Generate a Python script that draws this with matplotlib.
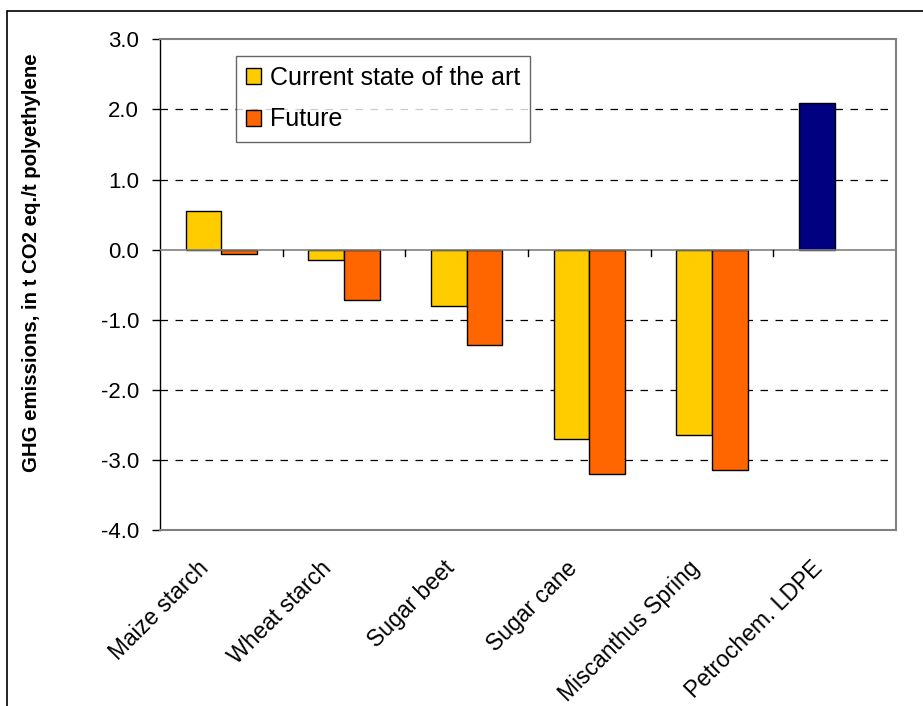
import matplotlib
matplotlib.use("Agg")
import matplotlib.pyplot as plt
import numpy as np
from matplotlib.patches import Rectangle
import matplotlib.transforms as mtransforms

plt.rcParams['font.family'] = ['Liberation Sans', 'DejaVu Sans']

categories = ["Maize starch", "Wheat starch", "Sugar beet", "Sugar cane",
              "Miscanthus Spring", "Petrochem. LDPE"]
current = [0.55, -0.15, -0.80, -2.70, -2.65]
future = [-0.06, -0.72, -1.36, -3.20, -3.15]
petrochem = [2.09]
yticks = [3.0, 2.0, 1.0, 0.0, -1.0, -2.0, -3.0, -4.0]

W, H = 923, 706
fig = plt.figure(figsize=(W / 100, H / 100), dpi=100)
ax = fig.add_axes([160 / W, 1 - 530 / H, (896 - 160) / W, (530 - 39.3) / H])

bw = 0.29
x = np.arange(len(categories))
xb = x[:len(current)]
ax.bar(xb - bw / 2, current, bw, color="#FFCC00", edgecolor="black", linewidth=1.0,
       label="Current state of the art", zorder=3)
ax.bar(xb + bw / 2, future, bw, color="#FF6600", edgecolor="black", linewidth=1.0,
       label="Future", zorder=3)
ax.bar(x[len(current):] - bw / 2, petrochem, bw, color="#000080", edgecolor="black",
       linewidth=1.0, zorder=3)

ax.set_xlim(-0.5, len(categories) - 0.5)
ax.set_ylim(-4.0, 3.0)
ax.set_yticks(yticks)
ax.set_yticklabels([f"{v:.1f}" for v in yticks], fontsize=16)
ax.tick_params(axis='y', direction='out', length=6, width=1, pad=9, color='black')

# grid lines
for v in [2.0, 1.0, -1.0, -2.0, -3.0]:
    ax.axhline(v, color='black', linewidth=0.9, linestyle=(0, (6, 6)), zorder=1)
ax.axhline(0, color='#808080', linewidth=1.2, zorder=4)

# category boundary ticks on the zero line
for b in np.arange(0.5, len(categories) - 0.5, 1.0):
    ax.add_line(plt.Line2D([b, b], [0, -6 / 70.1], color='black', linewidth=1.0, zorder=4))

ax.set_xticks(x)
ax.set_xticklabels(categories, fontsize=16.5, rotation=45, ha='right', va='top',
                   rotation_mode='anchor')
ax.tick_params(axis='x', length=0, pad=19)
shift = mtransforms.ScaledTranslation(-24 / 100, 0, fig.dpi_scale_trans)
for lbl in ax.get_xticklabels():
    lbl.set_transform(lbl.get_transform() + shift)

for s in ['top', 'right', 'bottom']:
    ax.spines[s].set_color('#808080')
    ax.spines[s].set_linewidth(1.5)
ax.spines['left'].set_color('black')
ax.spines['left'].set_linewidth(1.0)

fig.text(31.5 / W, 1 - 263 / H, "GHG emissions, in t CO2 eq./t polyethylene",
         rotation=90, ha='center', va='center', fontsize=14.7, fontweight='bold')

leg = ax.legend(loc='upper left', bbox_to_anchor=(236 / W, 1 - 56 / H),
                bbox_transform=fig.transFigure, fontsize=18, frameon=True,
                fancybox=False, edgecolor='#404040', handlelength=0.6,
                handleheight=0.6, handletextpad=0.35, labelspacing=0.7,
                borderpad=0.4, borderaxespad=0)
leg.get_frame().set_linewidth(1.0)

# outer frame
fig.patches.append(Rectangle((7.5 / W, -0.1), 1.2, 1.1 - 11 / H,
                             transform=fig.transFigure, fill=False,
                             edgecolor='black', linewidth=1.2))

fig.savefig("out.png", dpi=100)
